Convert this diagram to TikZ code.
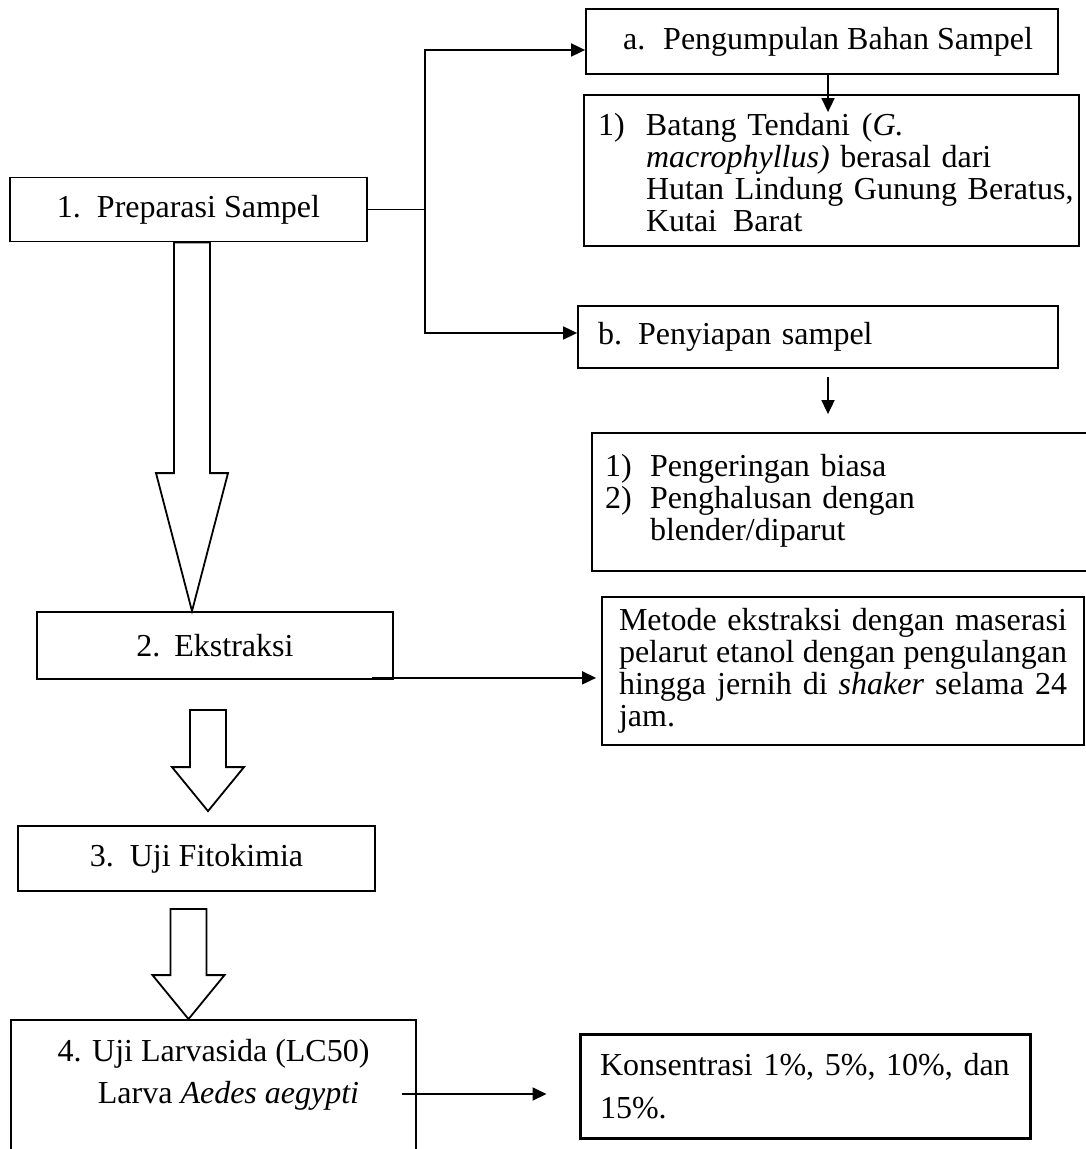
\documentclass[tikz,border=0pt]{standalone}
\usepackage{fontspec}
\setmainfont{Liberation Serif}
\usetikzlibrary{calc, arrows.meta}

\begin{document}
\begin{tikzpicture}[x=0.5pt, y=-0.5pt,
    font=\fontsize{16}{16}\selectfont,
    kotak/.style={draw, line width=0.9pt, inner sep=0pt},
    panah/.style={line width=0.9pt, -{Triangle[length=7pt,width=6.5pt]}},
    blok/.style={draw, line width=0.9pt, fill=white}
  ]
  \useasboundingbox (0,0) rectangle (1085,1149);

  % left column
  \node[kotak, minimum width=178.5pt, minimum height=32pt] (prep) at (188.5,209.5) {1.\hspace{8pt}Preparasi Sampel};
  \node[kotak, minimum width=178pt, minimum height=33.5pt] (ekstraksi) at (215,645.5) {2.\hspace{7pt}Ekstraksi};
  \node[kotak, minimum width=178.5pt, minimum height=32.5pt] (fito) at (196.5,858.5) {3.\hspace{8pt}Uji Fitokimia};
  \node[kotak, minimum width=202.5pt, minimum height=72.5pt, align=center] (larva) at (213.5,1092.5)
    {4. Uji Larvasida (LC50)\\[5pt]\hspace*{15pt}Larva \textit{Aedes aegypti}\\[5pt]\mbox{}};

  % right column
  \node[kotak, minimum width=236pt, minimum height=32.5pt] (kumpul) at (822,41.5) {\hspace*{6pt}a.\hspace{9pt}Pengumpulan Bahan Sampel};
  \node[kotak, minimum width=247.5pt, minimum height=75.5pt, text width=233.5pt, inner xsep=7pt, align=left] (batang) at (831.5,170.5)
    {\raisebox{-3.5pt}[\height][\depth]{\begin{tabular}{@{}p{24pt}@{}l@{}}
      1) & Batang Tendani\hspace{6pt}(\textit{G.}\\
         & \textit{macrophyllus)} berasal dari\\
         & Hutan Lindung Gunung Beratus,\\
         & Kutai\hspace{8pt}Barat
    \end{tabular}}};
  \node[kotak, minimum width=240pt, minimum height=31pt, text width=220pt, inner xsep=10pt, align=left] (penyiapan) at (818,337) {b.\hspace{8pt}Penyiapan sampel};
  \node[kotak, minimum width=254pt, minimum height=69pt, text width=241pt, inner xsep=6.5pt, align=left] (kering) at (846,502)
    {\begin{tabular}{@{}p{22.5pt}@{}l@{}}
      1) & Pengeringan biasa\\
      2) & Penghalusan dengan\\
         & blender/diparut
    \end{tabular}};
  \node[kotak, minimum width=241pt, minimum height=74pt, text width=224pt, inner xsep=8.5pt, align=justify] (metode) at (843,671)
    {Metode ekstraksi dengan maserasi\linebreak pelarut etanol dengan pengulangan\linebreak hingga jernih di \textit{shaker} selama 24\linebreak jam.};
  \node[kotak, line width=1.5pt, minimum width=225pt, minimum height=52pt, text width=205pt, inner xsep=10pt, align=left] (konsen) at (805,1086)
    {Konsentrasi 1\%, 5\%, 10\%, dan\\[5.5pt]15\%.};

  % branches to a and b
  \coordinate (cabang) at (425,209.5);
  \draw[line width=0.9pt] (prep.east) -- (cabang);
  \draw[panah] (cabang) |- ([yshift=-4.25pt]kumpul.west);
  \draw[panah] (cabang) |- ([yshift=2pt]penyiapan.west);
  \draw[panah] ([xshift=3pt]kumpul.south) -- ([xshift=-1.75pt,yshift=-9pt]batang.north);
  \draw[panah] ([xshift=5pt,yshift=-4pt]penyiapan.south) -- ([xshift=-9pt,yshift=9pt]kering.north);

  % side arrows
  \coordinate (e1) at ([xshift=-11pt,yshift=1pt]ekstraksi.south east);
  \draw[panah] (e1) -- ($(e1 -| metode.west)+(-5,0)$);
  \coordinate (l1) at ([xshift=-7.5pt,yshift=-0.75pt]larva.east);
  \draw[panah] (l1) -- ($(l1 -| konsen.west)+(-32,0)$);

  % the hollow arrows
  \coordinate (t1) at ([xshift=1.75pt]prep.south);
  \coordinate (u1) at (t1 |- ekstraksi.north);
  \coordinate (t2) at ([xshift=-3.5pt,yshift=-15pt]ekstraksi.south);
  \coordinate (u2) at ([xshift=5.75pt,yshift=7pt]fito.north);
  \coordinate (t3) at ([xshift=-4pt,yshift=-8.5pt]fito.south);
  \coordinate (u3) at (t3 |- larva.north);
  \foreach \a/\b/\h in {t1/u1/138, t2/u2/44, t3/u3/44}
    \draw[blok] ($(\a)+(-18,0)$) -- ($(\b)+(-18,-\h)$) -- ($(\b)+(-36,-\h)$) -- (\b)
      -- ($(\b)+(36,-\h)$) -- ($(\b)+(18,-\h)$) -- ($(\a)+(18,0)$) -- cycle;
\end{tikzpicture}
\end{document}
